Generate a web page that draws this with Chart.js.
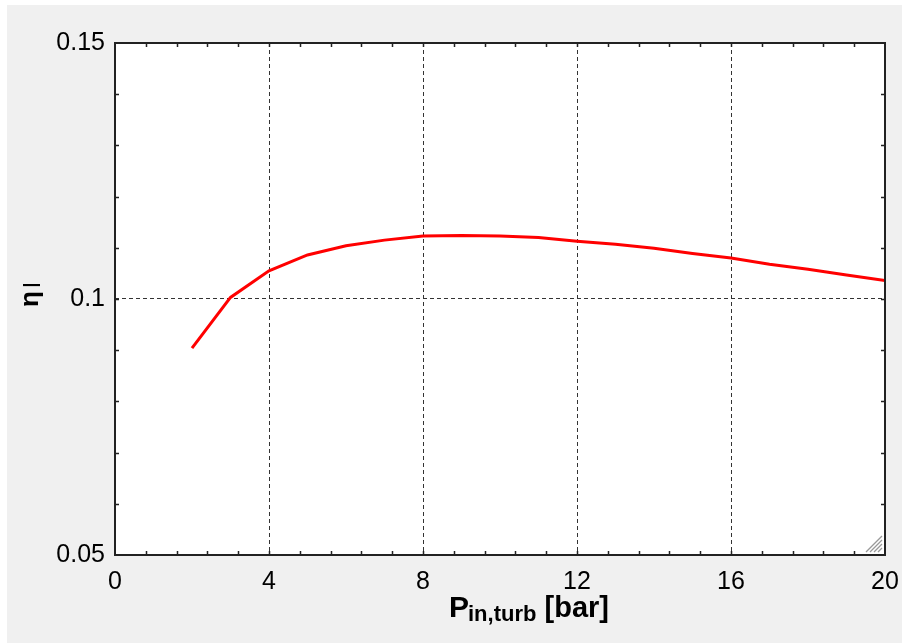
<!DOCTYPE html>
<html lang="en">
<head>
    <meta charset="UTF-8">
    <title>Efficiency vs turbine inlet pressure</title>
    <script src="https://cdn.jsdelivr.net/npm/chart.js"></script>
    <style>
        html, body {
            margin: 0;
            padding: 0;
            background: #ffffff;
        }
        #chartContainer {
            width: 902px;
            height: 643px;
        }
    </style>
</head>
<body>
    <div id="chartContainer">
        <canvas id="myChart"></canvas>
    </div>

    <script>
        // data
        var pressure = [2, 3, 4, 5, 6, 7, 8, 9, 10, 11, 12, 13, 14, 15, 16, 17, 18, 19, 20];
        var efficiency = [0.0904, 0.1003, 0.1055, 0.1086, 0.1104, 0.1115, 0.1123, 0.1124, 0.1123, 0.1120,
                          0.1113, 0.1107, 0.1099, 0.1089, 0.1080, 0.1068, 0.1058, 0.1047, 0.1036];
        var xTicks = [0, 4, 8, 12, 16, 20];
        var xTickLabels = ['0', '4', '8', '12', '16', '20'];
        var yTicks = [0.05, 0.1, 0.15];
        var yTickLabels = ['0.05', '0.1', '0.15'];

        var points = pressure.map(function (p, i) { return { x: p, y: efficiency[i] }; });

        // grey panel, frame, inner minor ticks, axis titles
        var framePlugin = {
            id: 'frame',
            beforeDraw: function (chart) {
                var ctx = chart.ctx;
                var a = chart.chartArea;
                ctx.save();
                ctx.fillStyle = '#ffffff';
                ctx.fillRect(0, 0, chart.width, chart.height);
                ctx.fillStyle = '#f0f0f0';
                ctx.fillRect(7, 5, chart.width - 7, chart.height - 5);
                ctx.fillStyle = '#ffffff';
                ctx.fillRect(a.left, a.top, a.right - a.left, a.bottom - a.top);
                ctx.restore();
            },
            afterDatasetsDraw: function (chart) {
                var ctx = chart.ctx;
                var a = chart.chartArea;
                var xs = chart.scales.x;
                var ys = chart.scales.y;
                ctx.save();
                ctx.strokeStyle = '#222';
                ctx.lineWidth = 1.5;
                // minor ticks, inward on all four sides
                ctx.beginPath();
                for (var i = 1; i < 25; i++) {
                    var px = Math.round(xs.getPixelForValue(i * 0.8)) + 0.5;
                    ctx.moveTo(px, a.bottom); ctx.lineTo(px, a.bottom - 4);
                    ctx.moveTo(px, a.top); ctx.lineTo(px, a.top + 4);
                }
                for (var j = 1; j < 10; j++) {
                    var py = Math.round(ys.getPixelForValue(0.05 + j * 0.01)) + 0.5;
                    ctx.moveTo(a.left, py); ctx.lineTo(a.left + 4, py);
                    ctx.moveTo(a.right, py); ctx.lineTo(a.right - 4, py);
                }
                ctx.stroke();
                // frame
                ctx.lineWidth = 2;
                ctx.strokeRect(a.left, a.top, a.right - a.left, a.bottom - a.top);
                // resize grip
                ctx.strokeStyle = '#999';
                ctx.lineWidth = 1.3;
                ctx.beginPath();
                for (var k = 0; k < 4; k++) {
                    var o = 4 + k * 4;
                    ctx.moveTo(a.right - 3 - o, a.bottom - 3);
                    ctx.lineTo(a.right - 3, a.bottom - 3 - o);
                }
                ctx.stroke();

                // x axis title: P with subscript
                ctx.fillStyle = '#000';
                ctx.textBaseline = 'alphabetic';
                ctx.textAlign = 'left';
                var x = 449, base = 617;
                ctx.font = 'bold 30px Arial, "Liberation Sans", sans-serif';
                ctx.fillText('P', x, base);
                x += ctx.measureText('P').width - 1;
                ctx.font = 'bold 22px Arial, "Liberation Sans", sans-serif';
                ctx.fillText('in,turb', x, base + 4);
                x += ctx.measureText('in,turb ').width + 2;
                ctx.font = 'bold 29px Arial, "Liberation Sans", sans-serif';
                ctx.fillText('[bar]', x, base);

                // y axis title, rotated
                ctx.translate(38, 295);
                ctx.rotate(-Math.PI / 2);
                ctx.textAlign = 'center';
                ctx.font = 'bold 26px Arial, "Liberation Sans", sans-serif';
                ctx.fillText('η', -4, 0);
                ctx.font = '23px Arial, "Liberation Sans", sans-serif';
                ctx.fillText('I', 10, 2);
                ctx.restore();
            }
        };

        var tickFont = { family: 'Arial, "Liberation Sans", sans-serif', size: 25 };

        var ctx = document.getElementById('myChart').getContext('2d');
        var myChart = new Chart(ctx, {
            type: 'line',
            data: {
                datasets: [{
                    label: 'eta',
                    data: points,
                    borderColor: '#ff0000',
                    borderWidth: 3,
                    pointRadius: 0,
                    tension: 0,
                    fill: false
                }]
            },
            options: {
                responsive: true,
                maintainAspectRatio: false,
                animation: false,
                layout: { padding: { left: 0, top: 43, right: 17, bottom: 0 } },
                plugins: {
                    legend: { display: false },
                    tooltip: { enabled: false }
                },
                scales: {
                    x: {
                        type: 'linear',
                        min: 0,
                        max: 20,
                        afterBuildTicks: function (scale) {
                            scale.ticks = xTicks.map(function (v) { return { value: v }; });
                        },
                        afterFit: function (scale) {
                            scale.height = 88;
                            scale.paddingLeft = 0;
                            scale.paddingRight = 0;
                        },
                        ticks: {
                            autoSkip: false,
                            maxRotation: 0,
                            color: '#000',
                            font: tickFont,
                            padding: 12,
                            callback: function (v) { return xTickLabels[xTicks.indexOf(v)]; }
                        },
                        grid: {
                            drawTicks: false,
                            lineWidth: 1,
                            color: function (c) {
                                var v = c.tick && c.tick.value;
                                return (v === 0 || v === 20) ? 'rgba(0,0,0,0)' : '#333';
                            }
                        },
                        border: { display: false, dash: [4, 3] }
                    },
                    y: {
                        type: 'linear',
                        min: 0.05,
                        max: 0.15,
                        afterBuildTicks: function (scale) {
                            scale.ticks = yTicks.map(function (v) { return { value: v }; });
                        },
                        afterFit: function (scale) {
                            scale.width = 115;
                            scale.paddingTop = 0;
                            scale.paddingBottom = 0;
                        },
                        ticks: {
                            autoSkip: false,
                            color: '#000',
                            font: tickFont,
                            padding: 10,
                            callback: function (v) {
                                for (var i = 0; i < yTicks.length; i++) {
                                    if (Math.abs(yTicks[i] - v) < 1e-9) return yTickLabels[i];
                                }
                                return '';
                            }
                        },
                        grid: {
                            drawTicks: false,
                            lineWidth: 1,
                            color: function (c) {
                                var v = c.tick && c.tick.value;
                                return (v !== undefined && Math.abs(v - 0.1) < 1e-9) ? '#333' : 'rgba(0,0,0,0)';
                            }
                        },
                        border: { display: false, dash: [4, 3] }
                    }
                }
            },
            plugins: [framePlugin]
        });
    </script>
</body>
</html>
